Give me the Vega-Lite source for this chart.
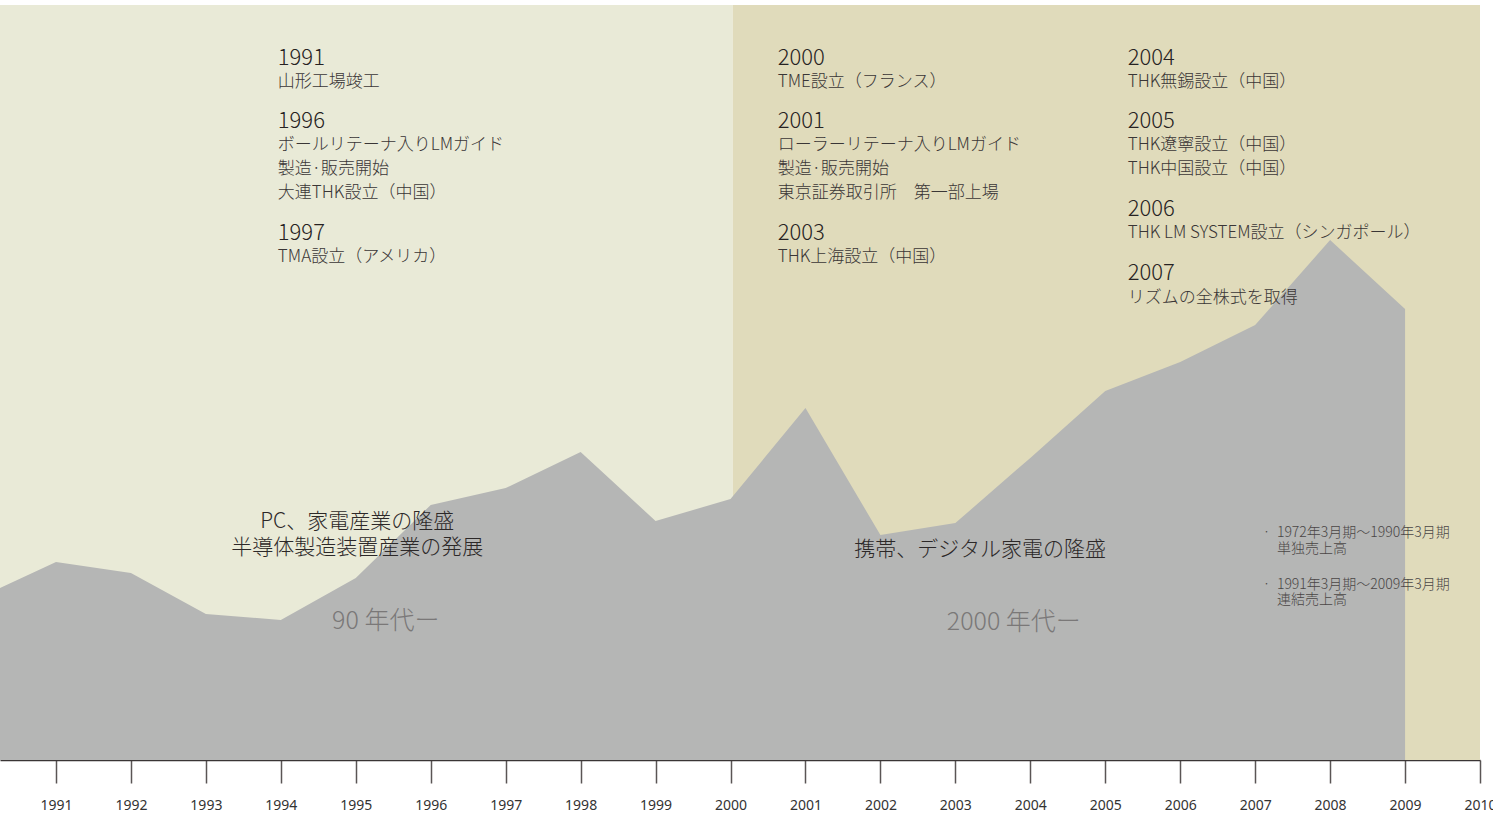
{
  "$schema": "https://vega.github.io/schema/vega-lite/v6.json",
  "width": 1480,
  "height": 755,
  "padding": {"left": 0, "top": 5, "right": 0, "bottom": 0},
  "background": "#ffffff",
  "config": {
    "view": {"stroke": null},
    "font": "Noto Sans CJK JP",
    "axisX": {
      "title": null, "grid": false,
      "domainColor": "#3a3535", "domainWidth": 1.5,
      "tickColor": "#5a5555", "tickWidth": 1.5, "tickSize": 23,
      "labelFont": "Noto Sans", "labelFontSize": 14, "labelColor": "#333333",
      "labelPadding": 15, "labelFlush": false, "labelOverlap": false
    }
  },
  "datasets": {
    "eras": [
      {"era": "90 年代ー", "start": 1990.253, "end": 2000.03},
      {"era": "2000 年代ー", "start": 2000.03, "end": 2010}
    ],
    "sales": [
      {"year": 1990, "sales": 856},
      {"year": 1991, "sales": 1040},
      {"year": 1992, "sales": 982},
      {"year": 1993, "sales": 767},
      {"year": 1994, "sales": 735},
      {"year": 1995, "sales": 956},
      {"year": 1996, "sales": 1339},
      {"year": 1997, "sales": 1428},
      {"year": 1998, "sales": 1617},
      {"year": 1999, "sales": 1255},
      {"year": 2000, "sales": 1370},
      {"year": 2001, "sales": 1848},
      {"year": 2002, "sales": 1181},
      {"year": 2003, "sales": 1244},
      {"year": 2004, "sales": 1586},
      {"year": 2005, "sales": 1937},
      {"year": 2006, "sales": 2090},
      {"year": 2007, "sales": 2284},
      {"year": 2008, "sales": 2730},
      {"year": 2009, "sales": 2368}
    ],
    "notes": [
      {"x": 1993.96, "y": 3686, "t": "1991", "k": "year"},
      {"x": 1993.96, "y": 3560, "t": "山形工場竣工", "k": "desc"},
      {"x": 1993.96, "y": 3355, "t": "1996", "k": "year"},
      {"x": 1993.96, "y": 3229, "t": "ボールリテーナ入りLMガイド", "k": "desc"},
      {"x": 1993.96, "y": 3103, "t": "製造·販売開始", "k": "desc"},
      {"x": 1993.96, "y": 2977, "t": "大連THK設立（中国）", "k": "desc"},
      {"x": 1993.96, "y": 2767, "t": "1997", "k": "year"},
      {"x": 1993.96, "y": 2641, "t": "TMA設立（アメリカ）", "k": "desc"},
      {"x": 2000.63, "y": 3686, "t": "2000", "k": "year"},
      {"x": 2000.63, "y": 3560, "t": "TME設立（フランス）", "k": "desc"},
      {"x": 2000.63, "y": 3355, "t": "2001", "k": "year"},
      {"x": 2000.63, "y": 3229, "t": "ローラーリテーナ入りLMガイド", "k": "desc"},
      {"x": 2000.63, "y": 3103, "t": "製造·販売開始", "k": "desc"},
      {"x": 2000.63, "y": 2977, "t": "東京証券取引所　第一部上場", "k": "desc"},
      {"x": 2000.63, "y": 2767, "t": "2003", "k": "year"},
      {"x": 2000.63, "y": 2641, "t": "THK上海設立（中国）", "k": "desc"},
      {"x": 2005.30, "y": 3686, "t": "2004", "k": "year"},
      {"x": 2005.30, "y": 3560, "t": "THK無錫設立（中国）", "k": "desc"},
      {"x": 2005.30, "y": 3355, "t": "2005", "k": "year"},
      {"x": 2005.30, "y": 3229, "t": "THK遼寧設立（中国）", "k": "desc"},
      {"x": 2005.30, "y": 3103, "t": "THK中国設立（中国）", "k": "desc"},
      {"x": 2005.30, "y": 2893, "t": "2006", "k": "year"},
      {"x": 2005.30, "y": 2767, "t": "THK LM SYSTEM設立（シンガポール）", "k": "desc"},
      {"x": 2005.30, "y": 2557, "t": "2007", "k": "year"},
      {"x": 2005.30, "y": 2426, "t": "リズムの全株式を取得", "k": "desc"},
      {"x": 1995.02, "y": 1250, "t": "PC、家電産業の隆盛", "k": "head"},
      {"x": 1995.02, "y": 1113, "t": "半導体製造装置産業の発展", "k": "head"},
      {"x": 2003.33, "y": 1103, "t": "携帯、デジタル家電の隆盛", "k": "head"},
      {"x": 1995.40, "y": 730, "t": "90 年代ー", "k": "era"},
      {"x": 2003.78, "y": 725, "t": "2000 年代ー", "k": "era"},
      {"x": 2007.10, "y": 1192, "t": "·", "k": "foot"},
      {"x": 2007.29, "y": 1192, "t": "1972年3月期～1990年3月期", "k": "foot"},
      {"x": 2007.29, "y": 1110, "t": "単独売上高", "k": "foot"},
      {"x": 2007.10, "y": 919, "t": "·", "k": "foot"},
      {"x": 2007.29, "y": 919, "t": "1991年3月期～2009年3月期", "k": "foot"},
      {"x": 2007.29, "y": 838, "t": "連結売上高", "k": "foot"}
    ]
  },
  "layer": [
    {
      "data": {"name": "eras"},
      "mark": {"type": "rect"},
      "encoding": {
        "x": {
          "field": "start", "type": "quantitative",
          "scale": {"domain": [1990.253, 2010], "nice": false, "zero": false},
          "axis": {"values": [1991,1992,1993,1994,1995,1996,1997,1998,1999,2000,2001,2002,2003,2004,2005,2006,2007,2008,2009,2010], "format": "d", "title": null}
        },
        "x2": {"field": "end"},
        "color": {
          "field": "era", "type": "nominal",
          "scale": {"domain": ["90 年代ー", "2000 年代ー"], "range": ["#e9ead7", "#e0dbbb"]},
          "legend": null
        }
      }
    },
    {
      "data": {"name": "sales"},
      "mark": {"type": "area", "clip": true, "color": "#b5b6b5", "interpolate": "linear"},
      "encoding": {
        "x": {"field": "year", "type": "quantitative", "axis": {"values": [1991,1992,1993,1994,1995,1996,1997,1998,1999,2000,2001,2002,2003,2004,2005,2006,2007,2008,2009,2010], "format": "d", "title": null}},
        "y": {"field": "sales", "type": "quantitative", "scale": {"domain": [0, 3964], "nice": false}, "axis": null}
      }
    },
    {
      "data": {"name": "notes"},
      "transform": [{"filter": "datum.k === 'year'"}],
      "mark": {"type": "text", "align": "left", "baseline": "middle", "fontSize": 22, "color": "#262222", "font": "Noto Sans CJK JP", "fontWeight": 300},
      "encoding": {
        "x": {"field": "x", "type": "quantitative", "axis": {"values": [1991,1992,1993,1994,1995,1996,1997,1998,1999,2000,2001,2002,2003,2004,2005,2006,2007,2008,2009,2010], "format": "d", "title": null}},
        "y": {"field": "y", "type": "quantitative", "axis": null},
        "text": {"field": "t"}
      }
    },
    {
      "data": {"name": "notes"},
      "transform": [{"filter": "datum.k === 'desc'"}],
      "mark": {"type": "text", "align": "left", "baseline": "middle", "fontSize": 17, "color": "#3a3636", "font": "Noto Sans CJK JP", "fontWeight": 300},
      "encoding": {
        "x": {"field": "x", "type": "quantitative", "axis": {"values": [1991,1992,1993,1994,1995,1996,1997,1998,1999,2000,2001,2002,2003,2004,2005,2006,2007,2008,2009,2010], "format": "d", "title": null}},
        "y": {"field": "y", "type": "quantitative", "axis": null},
        "text": {"field": "t"}
      }
    },
    {
      "data": {"name": "notes"},
      "transform": [{"filter": "datum.k === 'head'"}],
      "mark": {"type": "text", "align": "center", "baseline": "middle", "fontSize": 21, "color": "#2c2828", "font": "Noto Sans CJK JP", "fontWeight": 300},
      "encoding": {
        "x": {"field": "x", "type": "quantitative", "axis": {"values": [1991,1992,1993,1994,1995,1996,1997,1998,1999,2000,2001,2002,2003,2004,2005,2006,2007,2008,2009,2010], "format": "d", "title": null}},
        "y": {"field": "y", "type": "quantitative", "axis": null},
        "text": {"field": "t"}
      }
    },
    {
      "data": {"name": "notes"},
      "transform": [{"filter": "datum.k === 'era'"}],
      "mark": {"type": "text", "align": "center", "baseline": "middle", "fontSize": 25, "color": "#7a7878", "font": "Noto Sans CJK JP", "fontWeight": 300},
      "encoding": {
        "x": {"field": "x", "type": "quantitative", "axis": {"values": [1991,1992,1993,1994,1995,1996,1997,1998,1999,2000,2001,2002,2003,2004,2005,2006,2007,2008,2009,2010], "format": "d", "title": null}},
        "y": {"field": "y", "type": "quantitative", "axis": null},
        "text": {"field": "t"}
      }
    },
    {
      "data": {"name": "notes"},
      "transform": [{"filter": "datum.k === 'foot'"}],
      "mark": {"type": "text", "align": "left", "baseline": "middle", "fontSize": 14, "color": "#4a4646", "font": "Noto Sans CJK JP", "fontWeight": 300},
      "encoding": {
        "x": {"field": "x", "type": "quantitative", "axis": {"values": [1991,1992,1993,1994,1995,1996,1997,1998,1999,2000,2001,2002,2003,2004,2005,2006,2007,2008,2009,2010], "format": "d", "title": null}},
        "y": {"field": "y", "type": "quantitative", "axis": null},
        "text": {"field": "t"}
      }
    }
  ]
}
